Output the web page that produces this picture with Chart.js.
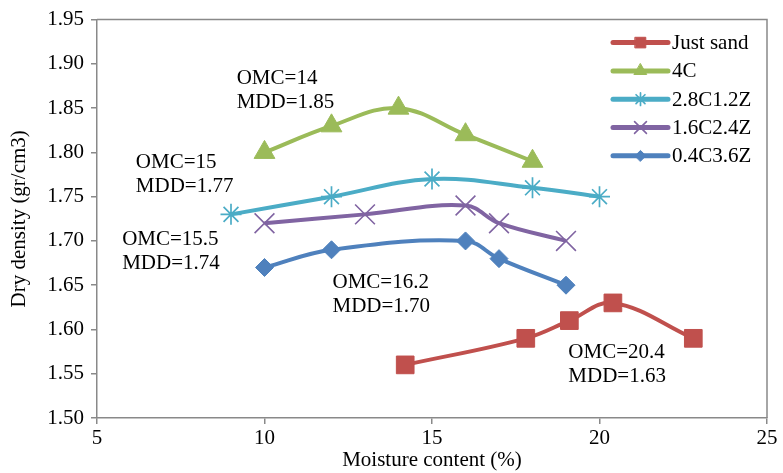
<!DOCTYPE html>
<html>
<head>
<meta charset="utf-8">
<script src="https://cdn.jsdelivr.net/npm/chart.js@4.4.0/dist/chart.umd.min.js"></script>
<style>
    html, body { margin: 0; padding: 0; background: #ffffff; }
    #chartBox { position: relative; width: 783px; height: 473px; }
</style>
</head>
<body>
<div id="chartBox"><canvas id="compactionChart"></canvas></div>
<script>
// Series names and colours
const seriesNames = ['Just sand', '4C', '2.8C1.2Z', '1.6C2.4Z', '0.4C3.6Z'];
const seriesColors = ['#C0504D', '#9BBB59', '#4BACC6', '#8064A2', '#4F81BD'];

// Moisture content (%) and dry density (gr/cm3)
const moistureSand = [14.2, 17.8, 19.1, 20.4, 22.8];
const densitySand = [1.56, 1.59, 1.61, 1.63, 1.59];
const moisture4C = [10, 12, 14, 16, 18];
const density4C = [1.80, 1.83, 1.85, 1.82, 1.79];
const moisture28C12Z = [9, 12, 15, 18, 20];
const density28C12Z = [1.73, 1.75, 1.77, 1.76, 1.75];
const moisture16C24Z = [10, 13, 16, 17, 19];
const density16C24Z = [1.72, 1.73, 1.74, 1.72, 1.70];
const moisture04C36Z = [10, 12, 16, 17, 19];
const density04C36Z = [1.67, 1.69, 1.70, 1.68, 1.65];

// Axis ticks
const xTicks = [5, 10, 15, 20, 25];
const yTicks = [1.50, 1.55, 1.60, 1.65, 1.70, 1.75, 1.80, 1.85, 1.90, 1.95];

// OMC / MDD notes (text + anchor in data units)
const noteLines = [
    ['OMC=14', 'MDD=1.85'],
    ['OMC=15', 'MDD=1.77'],
    ['OMC=15.5', 'MDD=1.74'],
    ['OMC=16.2', 'MDD=1.70'],
    ['OMC=20.4', 'MDD=1.63']
];
const noteX = [9.17, 6.16, 5.75, 12.03, 19.07];
const noteY = [1.883, 1.789, 1.702, 1.653, 1.574];

const FONT = '"Liberation Serif", "Times New Roman", serif';
const AXIS_GREY = '#898989';

const toPoints = (xs, ys) => xs.map((x, i) => ({ x: x, y: ys[i] }));

const makeSet = (idx, xs, ys, style, radius, borderW) => ({
    label: seriesNames[idx],
    data: toPoints(xs, ys),
    showLine: true,
    borderColor: seriesColors[idx],
    backgroundColor: seriesColors[idx],
    borderWidth: 4,
    tension: 0.38,
    pointStyle: style,
    pointRadius: radius,
    pointHoverRadius: radius,
    pointBorderWidth: borderW,
    pointBackgroundColor: seriesColors[idx],
    pointBorderColor: seriesColors[idx]
});

const datasets = [
    makeSet(0, moistureSand, densitySand, 'rect', 12.5, 1),
    makeSet(1, moisture4C, density4C, 'triangle', 12, 1),
    makeSet(2, moisture28C12Z, density28C12Z, 'star', 10.5, 1.7),
    makeSet(3, moisture16C24Z, density16C24Z, 'crossRot', 14, 1.6),
    makeSet(4, moisture04C36Z, density04C36Z, 'rectRot', 9, 1)
];
// later series sit on top in the picture: draw in reverse order
datasets.forEach((d, i) => { d.order = datasets.length - i; });

// Frame around the plot area (top and right edges)
const framePlugin = {
    id: 'frame',
    beforeDatasetsDraw(chart) {
        const { ctx, chartArea } = chart;
        ctx.save();
        ctx.strokeStyle = AXIS_GREY;
        ctx.lineWidth = 1.5;
        ctx.beginPath();
        ctx.moveTo(chartArea.left, chartArea.top);
        ctx.lineTo(chartArea.right, chartArea.top);
        ctx.lineTo(chartArea.right, chartArea.bottom);
        ctx.stroke();
        ctx.restore();
    }
};

// OMC / MDD text notes
const notesPlugin = {
    id: 'notes',
    afterDatasetsDraw(chart) {
        const { ctx } = chart;
        const xs = chart.scales.x;
        const ys = chart.scales.y;
        ctx.save();
        ctx.font = '21px ' + FONT;
        ctx.fillStyle = '#000000';
        ctx.textAlign = 'left';
        ctx.textBaseline = 'middle';
        noteLines.forEach((lines, i) => {
            const px = xs.getPixelForValue(noteX[i]);
            const py = ys.getPixelForValue(noteY[i]);
            lines.forEach((t, j) => ctx.fillText(t, px, py + j * 24));
        });
        ctx.restore();
    }
};

// Legend drawn inside the plot area, top right
const legendPlugin = {
    id: 'insideLegend',
    afterDatasetsDraw(chart) {
        const { ctx, chartArea } = chart;
        const lineStart = chartArea.right - 154;
        const lineEnd = chartArea.right - 99;
        ctx.save();
        ctx.font = '21px ' + FONT;
        ctx.textAlign = 'left';
        ctx.textBaseline = 'middle';
        chart.data.datasets.forEach((d, i) => {
            const y = chartArea.top + 23 + i * 28.3;
            ctx.strokeStyle = d.borderColor;
            ctx.lineWidth = 5;
            ctx.lineCap = 'round';
            ctx.beginPath();
            ctx.moveTo(lineStart, y);
            ctx.lineTo(lineEnd, y);
            ctx.stroke();
            ctx.fillStyle = d.backgroundColor;
            ctx.strokeStyle = d.borderColor;
            ctx.lineWidth = d.pointBorderWidth;
            Chart.helpers.drawPoint(ctx, {
                pointStyle: d.pointStyle,
                radius: d.pointRadius * 0.6,
                rotation: 0,
                borderWidth: d.pointBorderWidth
            }, (lineStart + lineEnd) / 2, y);
            ctx.fillStyle = '#000000';
            ctx.fillText(d.label, lineEnd + 4, y + 1);
        });
        ctx.restore();
    }
};

const ctx = document.getElementById('compactionChart').getContext('2d');
new Chart(ctx, {
    type: 'scatter',
    data: { datasets: datasets },
    options: {
        responsive: true,
        maintainAspectRatio: false,
        animation: false,
        events: [],
        layout: {
            padding: { left: 0, right: 16, top: 19, bottom: 0 }
        },
        plugins: {
            legend: { display: false },
            tooltip: { enabled: false }
        },
        scales: {
            x: {
                type: 'linear',
                min: 5,
                max: 25,
                afterBuildTicks: (scale) => { scale.ticks = xTicks.map(v => ({ value: v })); },
                afterFit: (scale) => { scale.height = 55; },
                border: { display: true, color: AXIS_GREY, width: 1.5 },
                grid: {
                    display: true,
                    drawOnChartArea: false,
                    drawTicks: true,
                    tickLength: 6,
                    color: AXIS_GREY,
                    lineWidth: 1.5
                },
                ticks: {
                    color: '#000000',
                    padding: 2,
                    maxRotation: 0,
                    font: { family: FONT, size: 21 }
                },
                title: {
                    display: true,
                    text: 'Moisture content (%)',
                    color: '#000000',
                    padding: { top: 0, bottom: 0 },
                    font: { family: FONT, size: 21 }
                }
            },
            y: {
                type: 'linear',
                min: 1.5,
                max: 1.95,
                afterBuildTicks: (scale) => { scale.ticks = yTicks.map(v => ({ value: v })); },
                afterFit: (scale) => { scale.width = 97; },
                border: { display: true, color: AXIS_GREY, width: 1.5 },
                grid: {
                    display: true,
                    drawOnChartArea: false,
                    drawTicks: true,
                    tickLength: 6,
                    color: AXIS_GREY,
                    lineWidth: 1.5
                },
                ticks: {
                    color: '#000000',
                    padding: 7,
                    font: { family: FONT, size: 21 },
                    callback: (v) => Number(v).toFixed(2)
                },
                title: {
                    display: true,
                    text: 'Dry density (gr/cm3)',
                    color: '#000000',
                    padding: { top: 7, bottom: 0 },
                    font: { family: FONT, size: 21 }
                }
            }
        }
    },
    plugins: [framePlugin, notesPlugin, legendPlugin]
});
</script>
</body>
</html>
